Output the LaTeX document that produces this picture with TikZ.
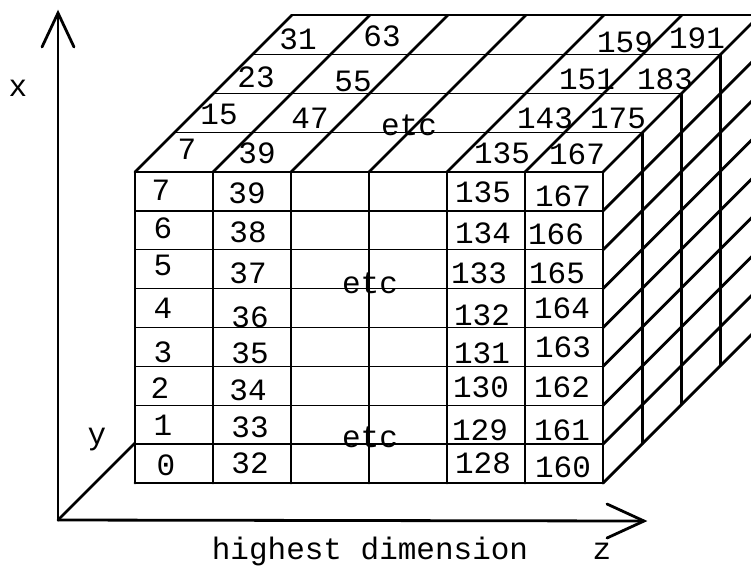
\documentclass[tikz,border=0pt]{standalone}
\usepackage{fontspec}
\newfontfamily\monofam{Liberation Mono}
\begin{document}
\begin{tikzpicture}[x=1pt,y=-1pt,
  thickline/.style={line width=2.8pt, line cap=round, line join=round},
  thinline/.style={line width=1.3pt},
  axisline/.style={line width=2.8pt, line cap=round, line join=miter},
  lbl/.style={font=\monofam\fontsize{31}{32}\selectfont, inner sep=0pt, anchor=center}]
\useasboundingbox (0,0) rectangle (751,566);
\clip (0,0) rectangle (751,566);
% thin row lines on the front face
\foreach \r in {1,...,7} \draw[thinline] (135,{172+\r*38.875}) -- (603,{172+\r*38.875});
% thin depth lines on the top face
\foreach \k in {1,2,3} \draw[thinline] ({135+\k*39.25},{172-\k*39.25}) -- ({603+\k*39.25},{172-\k*39.25});
% back top edge
\draw[thickline] (292,15) -- (760,15);
% front columns and top diagonals
\foreach \c in {0,...,6} {
  \draw[thickline] ({135+\c*78},172) -- ({135+\c*78},483);
  \draw[thickline] ({135+\c*78},172) -- ++(157,-157);
}
\draw[thickline] (135,172) -- (603,172);
\draw[thickline] (135,483) -- (603,483);
% right face diagonals
\foreach \r in {1,...,8} \draw[thickline] (603,{172+\r*38.875}) -- ++(157,-157);
% right face verticals
\foreach \k in {1,2,3,4} \draw[thickline] ({603+\k*39.25},{172-\k*39.25}) -- ({603+\k*39.25},{483-\k*39.25});
% axes
\coordinate (O) at (58,520);
\coordinate (xt) at (58,13);
\coordinate (xbl) at (42,47);
\coordinate (xbr) at (74,47);
\coordinate (zt) at (644,521);
\coordinate (zbu) at (607,504);
\coordinate (zbd) at (607,538);
\coordinate (yt) at (135,443);
\draw[axisline] (O) -- (xt);
\draw[axisline] (xbl) -- (xt) -- (xbr);
\draw[axisline] (O) -- (zt);
\draw[axisline] (zbu) -- (zt) -- (zbd);
\draw[axisline] (O) -- (yt);
\node[lbl] (lx) at (18,88) {x};
\node[lbl] (ly) at (97,440) {y};
\node[lbl] (lz) at (602,551) {z};
\node[lbl] (lh) at (370,551) {highest dimension};
% front face labels
\node[lbl] (f7) at (161,190) {7};
\node[lbl] (f6) at (163,228) {6};
\node[lbl] (f5) at (163,265) {5};
\node[lbl] (f4) at (163,308) {4};
\node[lbl] (f3) at (163,352) {3};
\node[lbl] (f2) at (160,388) {2};
\node[lbl] (f1) at (163,425) {1};
\node[lbl] (f0) at (166,465) {0};
\node[lbl] (f39) at (247,193) {39};
\node[lbl] (f38) at (248,232) {38};
\node[lbl] (f37) at (248,273) {37};
\node[lbl] (f36) at (250,317) {36};
\node[lbl] (f35) at (250,353) {35};
\node[lbl] (f34) at (248,390) {34};
\node[lbl] (f33) at (250,427) {33};
\node[lbl] (f32) at (250,463) {32};
\node[lbl] (f135) at (483,192) {135};
\node[lbl] (f134) at (483,233) {134};
\node[lbl] (f133) at (479,273) {133};
\node[lbl] (f132) at (482,315) {132};
\node[lbl] (f131) at (482,353) {131};
\node[lbl] (f130) at (481,387) {130};
\node[lbl] (f129) at (480,430) {129};
\node[lbl] (f128) at (483,463) {128};
\node[lbl] (f167) at (563,196) {167};
\node[lbl] (f166) at (556,234) {166};
\node[lbl] (f165) at (557,273) {165};
\node[lbl] (f164) at (562,308) {164};
\node[lbl] (f163) at (563,347) {163};
\node[lbl] (f162) at (562,387) {162};
\node[lbl] (f161) at (562,430) {161};
\node[lbl] (f160) at (563,467) {160};
\node[lbl] (fe1) at (370,283) {etc};
\node[lbl] (fe2) at (370,437) {etc};
% top face labels
\node[lbl] (t7) at (187,149) {7};
\node[lbl] (t39) at (257,153) {39};
\node[lbl] (t15) at (219,114) {15};
\node[lbl] (t47) at (310,118) {47};
\node[lbl] (t23) at (256,77) {23};
\node[lbl] (t55) at (353,81) {55};
\node[lbl] (t31) at (298,39) {31};
\node[lbl] (t63) at (382,36) {63};
\node[lbl] (tetc) at (409,125) {etc};
\node[lbl] (t159) at (625,42) {159};
\node[lbl] (t191) at (697,38) {191};
\node[lbl] (t151) at (587,79) {151};
\node[lbl] (t183) at (665,79) {183};
\node[lbl] (t143) at (545,118) {143};
\node[lbl] (t175) at (618,118) {175};
\node[lbl] (t135) at (502,153) {135};
\node[lbl] (t167) at (577,154) {167};
\end{tikzpicture}
\end{document}
